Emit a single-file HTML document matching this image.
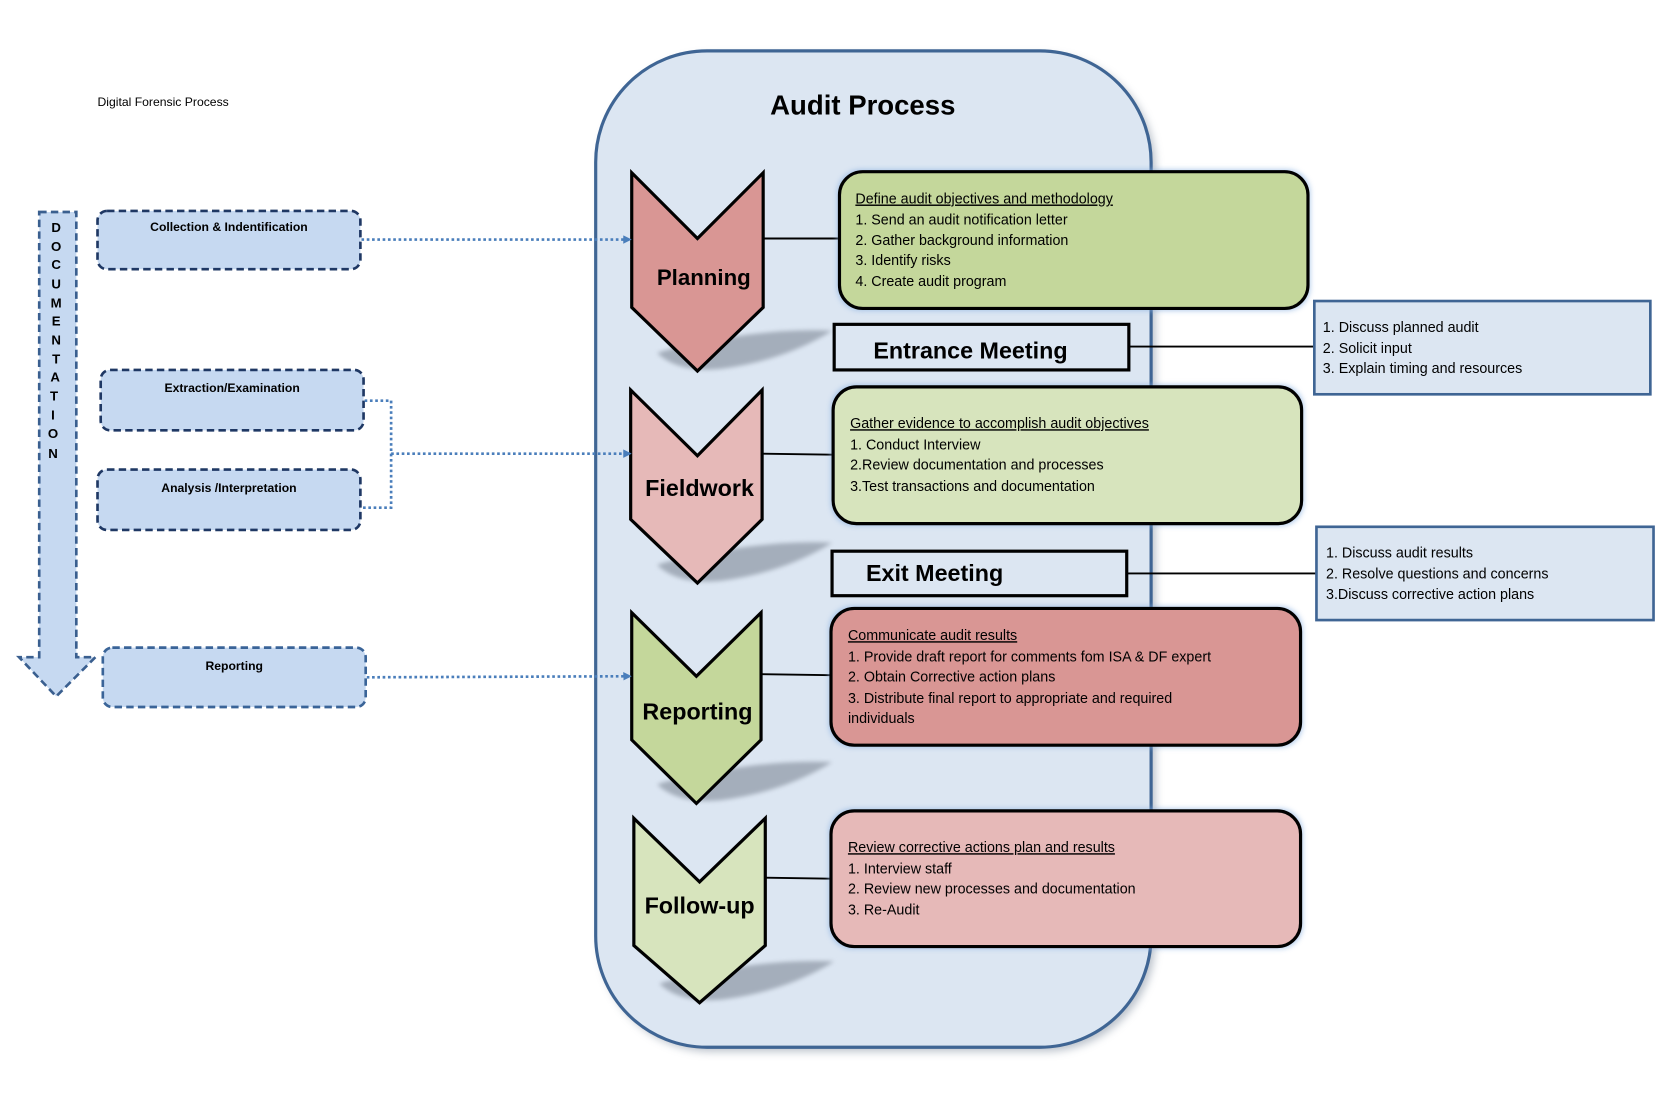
<!DOCTYPE html>
<html><head><meta charset="utf-8"><style>
html,body{margin:0;padding:0;background:#fff;}
svg{display:block;}
text{font-family:"Liberation Sans",sans-serif;fill:#000;}
</style></head><body>
<svg width="1662" height="1096" viewBox="0 0 1568 1034" preserveAspectRatio="none" xmlns="http://www.w3.org/2000/svg">
<defs>
<marker id="ar" markerWidth="8" markerHeight="8" refX="6" refY="4" orient="auto" markerUnits="userSpaceOnUse"><path d="M0,0 L8,4 L0,8 Z" fill="#4a7ebb"/></marker>
<filter id="blur"><feGaussianBlur stdDeviation="4"/></filter>
<filter id="sb"><feGaussianBlur stdDeviation="2"/></filter>
<filter id="glow" x="-5%" y="-10%" width="110%" height="120%"><feGaussianBlur stdDeviation="2.5"/></filter>
</defs>
<rect width="1568" height="1034" fill="#fff"/>
<text x="92" y="100" font-size="11.5">Digital Forensic Process</text>

<rect x="566" y="52" width="524" height="940" rx="105" fill="#8a96a6" filter="url(#blur)" opacity="0.6"/>
<rect x="562" y="48" width="524" height="940" rx="105" fill="#dce6f2" stroke="#3f6594" stroke-width="3"/>
<text x="814" y="108" font-size="26" font-weight="bold" text-anchor="middle">Audit Process</text>

<!-- shadows -->
<g fill="#a4aebb" filter="url(#sb)">
<path d="M620,333 Q640,352 680,348 Q740,340 785,312 Q740,310 690,318 Q640,326 620,333 Z"/>
<path d="M620,533 Q640,552 680,548 Q740,540 785,512 Q740,510 690,518 Q640,526 620,533 Z"/>
<path d="M620,740 Q640,759 680,755 Q740,747 785,719 Q740,717 690,725 Q640,733 620,740 Z"/>
<path d="M622,928 Q642,947 682,943 Q742,935 787,907 Q742,905 692,913 Q642,921 622,928 Z"/>
</g>

<g stroke="#000" stroke-width="1.8">
<line x1="720" y1="225" x2="792" y2="225"/>
<line x1="719" y1="428" x2="786" y2="429"/>
<line x1="718" y1="636" x2="784" y2="637"/>
<line x1="722" y1="828" x2="784" y2="829"/>
<line x1="1065" y1="327" x2="1240" y2="327"/>
<line x1="1063" y1="541" x2="1242" y2="541"/>
</g>

<g stroke="#000" stroke-width="3" stroke-linejoin="miter">
<path d="M596,163 L658,225 L720,163 L720,290 L658,350 L596,290 Z" fill="#d99694"/>
<path d="M595,368 L658,430 L719,368 L719,490 L658,550 L595,490 Z" fill="#e6b9b8"/>
<path d="M596,578 L657,638 L718,578 L718,698 L657,758 L596,698 Z" fill="#c4d79b"/>
<path d="M598,772 L660,832 L722,772 L722,892 L660,946 L598,892 Z" fill="#d7e4bd"/>
</g>
<g font-weight="bold" text-anchor="middle">
<text x="664" y="269" font-size="21">Planning</text>
<text x="660" y="468" font-size="22">Fieldwork</text>
<text x="658" y="679" font-size="22">Reporting</text>
<text x="660" y="862" font-size="22">Follow-up</text>
</g>

<g fill="#8db3e2" opacity="0.7" filter="url(#glow)">
<rect x="790" y="160" width="446" height="133" rx="22"/>
<rect x="784" y="363" width="446" height="133" rx="22"/>
<rect x="782" y="572" width="447" height="133" rx="22"/>
<rect x="782" y="763" width="447" height="132" rx="22"/>
</g>
<g stroke="#000" stroke-width="3">
<rect x="792" y="162" width="442" height="129" rx="22" fill="#c4d79b"/>
<rect x="786" y="365" width="442" height="129" rx="22" fill="#d7e4bd"/>
<rect x="784" y="574" width="443" height="129" rx="22" fill="#d99694"/>
<rect x="784" y="765" width="443" height="128" rx="22" fill="#e6b9b8"/>
</g>
<g font-size="13.5">
<text x="807" y="192" text-decoration="underline">Define audit objectives and methodology</text>
<text x="807" y="212">1. Send an audit notification letter</text>
<text x="807" y="231">2. Gather background information</text>
<text x="807" y="250">3. Identify risks</text>
<text x="807" y="270">4. Create audit program</text>

<text x="802" y="404" text-decoration="underline">Gather evidence to accomplish audit objectives</text>
<text x="802" y="424">1. Conduct Interview</text>
<text x="802" y="443">2.Review documentation and processes</text>
<text x="802" y="463">3.Test transactions and documentation</text>

<text x="800" y="604" text-decoration="underline">Communicate audit results</text>
<text x="800" y="624">1. Provide draft report for comments fom ISA &amp;  DF expert</text>
<text x="800" y="643">2. Obtain Corrective action plans</text>
<text x="800" y="663">3. Distribute final report to appropriate and required</text>
<text x="800" y="682">individuals</text>

<text x="800" y="804" text-decoration="underline">Review corrective actions plan and results</text>
<text x="800" y="824">1. Interview staff</text>
<text x="800" y="843">2. Review new processes and documentation</text>
<text x="800" y="863">3. Re-Audit</text>
</g>

<rect x="787" y="306" width="278" height="43" fill="#dce6f2" stroke="#000" stroke-width="3"/>
<text x="824" y="338" font-size="22" font-weight="bold">Entrance Meeting</text>
<rect x="785" y="520" width="278" height="42" fill="#dce6f2" stroke="#000" stroke-width="3"/>
<text x="817" y="548" font-size="22" font-weight="bold">Exit Meeting</text>

<rect x="1240" y="284" width="317" height="88" fill="#dce6f2" stroke="#3f6594" stroke-width="2.5"/>
<g font-size="13.5">
<text x="1248" y="313">1. Discuss planned audit</text>
<text x="1248" y="333">2. Solicit input</text>
<text x="1248" y="352">3. Explain timing and resources</text>
</g>
<rect x="1242" y="497" width="318" height="88" fill="#dce6f2" stroke="#3f6594" stroke-width="2.5"/>
<g font-size="13.5">
<text x="1251" y="526">1. Discuss audit results</text>
<text x="1251" y="546">2. Resolve questions and concerns</text>
<text x="1251" y="565">3.Discuss corrective action plans</text>
</g>

<path d="M37,200 L72,200 L72,620 L90,620 L53,657 L18,620 L37,620 Z" fill="#c6d9f1" stroke="#3a5f8f" stroke-width="2.5" stroke-dasharray="7,4"/>
<g font-size="12.5" font-weight="bold" text-anchor="middle" style="font-family:'DejaVu Sans',sans-serif">
<text x="53" y="219">D</text><text x="53" y="237">O</text><text x="53" y="254">C</text><text x="53" y="272">U</text><text x="53" y="290">M</text><text x="53" y="307">E</text><text x="53" y="325">N</text><text x="53" y="343">T</text><text x="52" y="360">A</text><text x="51" y="378">T</text><text x="50" y="396">I</text><text x="50" y="413">O</text><text x="50" y="432">N</text>
</g>

<g fill="#c6d9f1" stroke-width="2.5" stroke-dasharray="7,4">
<rect x="92" y="199" width="248" height="55" rx="9" stroke="#1f3864"/>
<rect x="95" y="349" width="248" height="57" rx="9" stroke="#1f3864"/>
<rect x="92" y="443" width="248" height="57" rx="9" stroke="#1f3864"/>
<rect x="97" y="611" width="248" height="56" rx="9" stroke="#3a6498"/>
</g>
<g font-size="11.5" font-weight="bold" text-anchor="middle">
<text x="216" y="218">Collection &amp; Indentification</text>
<text x="219" y="370">Extraction/Examination</text>
<text x="216" y="464">Analysis /Interpretation</text>
<text x="221" y="632">Reporting</text>
</g>

<g stroke="#4a7ebb" stroke-width="2.5" stroke-dasharray="2.5,2.5" fill="none">
<line x1="341" y1="226" x2="594" y2="226" marker-end="url(#ar)"/>
<polyline points="344,378 369,378 369,479 341,479"/>
<line x1="369" y1="428" x2="594" y2="428" marker-end="url(#ar)"/>
<line x1="346" y1="639" x2="594" y2="638" marker-end="url(#ar)"/>
</g>
</svg>
</body></html>
